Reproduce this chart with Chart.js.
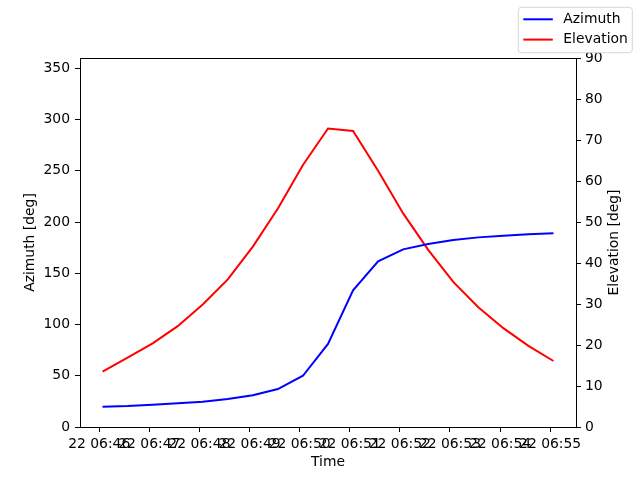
<!DOCTYPE html>
<html>
<head>
<meta charset="utf-8">
<script src="https://cdn.jsdelivr.net/npm/chart.js"></script>
<style>
  html, body { margin: 0; padding: 0; background: #fff; }
  canvas { display: block; }
</style>
</head>
<body>
<canvas id="myChart" width="640" height="480"></canvas>
<script>
// Pass data
const day = '22';
const times = ['06:46:04', '06:46:34', '06:47:04', '06:47:34', '06:48:04', '06:48:34', '06:49:04',
  '06:49:34', '06:50:04', '06:50:34', '06:51:04', '06:51:34', '06:52:04', '06:52:34', '06:53:04',
  '06:53:34', '06:54:04', '06:54:34', '06:55:04'];
const azimuth = [19.8, 20.5, 21.8, 23.1, 24.7, 27.3, 30.9, 37.0, 50.0, 81.0, 133.3,
  161.6, 173.3, 178.5, 182.4, 185.0, 186.7, 188.0, 189.0];
const elevation = [13.5, 16.9, 20.4, 24.6, 29.9, 36.0, 44.0, 53.3, 63.9, 72.8, 72.2,
  62.5, 52.1, 43.2, 35.4, 29.2, 24.1, 19.8, 16.1];
const xTickLabels = ['22 06:46', '22 06:47', '22 06:48', '22 06:49', '22 06:50',
  '22 06:51', '22 06:52', '22 06:53', '22 06:54', '22 06:55'];
const azTicks = [0, 50, 100, 150, 200, 250, 300, 350];
const elTicks = [0, 10, 20, 30, 40, 50, 60, 70, 80, 90];
const elevationTitle = 'Elevation [deg]';

// "HH:MM" or "HH:MM:SS" -> minutes since midnight
function toMinutes(t) {
  const p = t.split(':').map(Number);
  return p[0] * 60 + p[1] + (p[2] || 0) / 60;
}
function fmtTick(v) {
  const h = Math.floor(v / 60), m = Math.round(v % 60);
  return day + ' ' + String(h).padStart(2, '0') + ':' + String(m).padStart(2, '0');
}

const xs = times.map(toMinutes);
const span = xs[xs.length - 1] - xs[0];
const xMin = xs[0] - 0.05 * span;
const xMax = xs[xs.length - 1] + 0.05 * span;

const FONT = "'DejaVu Sans', sans-serif";
Chart.defaults.font.family = FONT;
Chart.defaults.font.size = 13.9;
Chart.defaults.color = '#000';

// top spine, right axis title (reads upward) and the legend box
const extras = {
  id: 'extras',
  afterDraw(chart) {
    const { ctx, chartArea } = chart;
    ctx.save();
    ctx.strokeStyle = '#000';
    ctx.lineWidth = 1;
    ctx.beginPath();
    ctx.moveTo(chartArea.left, Math.round(chartArea.top) + 0.5);
    ctx.lineTo(chartArea.right, Math.round(chartArea.top) + 0.5);
    ctx.stroke();

    ctx.font = '13.9px ' + FONT;
    ctx.fillStyle = '#000';
    ctx.textAlign = 'center';
    ctx.textBaseline = 'middle';
    ctx.save();
    ctx.translate(chart.width - 25.5, (chartArea.top + chartArea.bottom) / 2);
    ctx.rotate(-Math.PI / 2);
    ctx.fillText(elevationTitle, 0, 0);
    ctx.restore();

    // legend
    const bx = chart.width - 121.7, by = 7.3, bw = 114, bh = 45.4, r = 3;
    ctx.beginPath();
    ctx.moveTo(bx + r, by);
    ctx.arcTo(bx + bw, by, bx + bw, by + bh, r);
    ctx.arcTo(bx + bw, by + bh, bx, by + bh, r);
    ctx.arcTo(bx, by + bh, bx, by, r);
    ctx.arcTo(bx, by, bx + bw, by, r);
    ctx.closePath();
    ctx.fillStyle = 'rgba(255,255,255,0.8)';
    ctx.fill();
    ctx.strokeStyle = '#d6d6d6';
    ctx.stroke();
    chart.data.datasets.forEach((ds, i) => {
      const y = by + 12 + i * 20.3;
      ctx.strokeStyle = ds.borderColor;
      ctx.lineWidth = 2;
      ctx.beginPath();
      ctx.moveTo(bx + 5, y);
      ctx.lineTo(bx + 34.5, y);
      ctx.stroke();
      ctx.fillStyle = '#000';
      ctx.textAlign = 'left';
      ctx.fillText(ds.label, bx + 45, y);
    });
    ctx.restore();
  }
};

const ctx = document.getElementById('myChart').getContext('2d');
const myChart = new Chart(ctx, {
  type: 'line',
  data: {
    datasets: [{
      label: 'Azimuth',
      data: xs.map((x, i) => ({ x: x, y: azimuth[i] })),
      borderColor: '#0000ff',
      borderWidth: 2,
      pointRadius: 0,
      tension: 0,
      yAxisID: 'yAz'
    }, {
      label: 'Elevation',
      data: xs.map((x, i) => ({ x: x, y: elevation[i] })),
      borderColor: '#ff0000',
      borderWidth: 2,
      pointRadius: 0,
      tension: 0,
      yAxisID: 'yEl'
    }]
  },
  options: {
    responsive: false,
    animation: false,
    devicePixelRatio: 1,
    layout: { padding: { top: 58, left: 0, right: 0, bottom: 0 } },
    plugins: { legend: { display: false }, tooltip: { enabled: false } },
    scales: {
      x: {
        type: 'linear',
        min: xMin,
        max: xMax,
        afterBuildTicks: (s) => { s.ticks = xTickLabels.map(l => ({ value: toMinutes(l.split(' ')[1]) })); },
        afterFit: (s) => { s.height = 53; },
        grid: { drawOnChartArea: false, color: '#000', tickLength: 5 },
        border: { color: '#000' },
        ticks: { autoSkip: false, maxRotation: 0, minRotation: 0, padding: 4, callback: (v) => fmtTick(v) },
        title: { display: true, text: 'Time', padding: { top: 0, bottom: 9.7 } }
      },
      yAz: {
        type: 'linear',
        position: 'left',
        min: 0,
        max: 360,
        afterBuildTicks: (s) => { s.ticks = azTicks.map(v => ({ value: v })); },
        afterFit: (s) => { s.width = 80; },
        grid: { drawOnChartArea: false, color: '#000', tickLength: 5 },
        border: { color: '#000' },
        ticks: { padding: 5 },
        title: { display: true, text: 'Azimuth [deg]', padding: { top: 22, bottom: 0 } }
      },
      yEl: {
        type: 'linear',
        position: 'right',
        min: 0,
        max: 90,
        afterBuildTicks: (s) => { s.ticks = elTicks.map(v => ({ value: v })); },
        afterFit: (s) => { s.width = 64; },
        grid: { drawOnChartArea: false, color: '#000', tickLength: 5 },
        border: { color: '#000' },
        ticks: { padding: 4 }
      }
    }
  },
  plugins: [extras]
});
</script>
</body>
</html>
